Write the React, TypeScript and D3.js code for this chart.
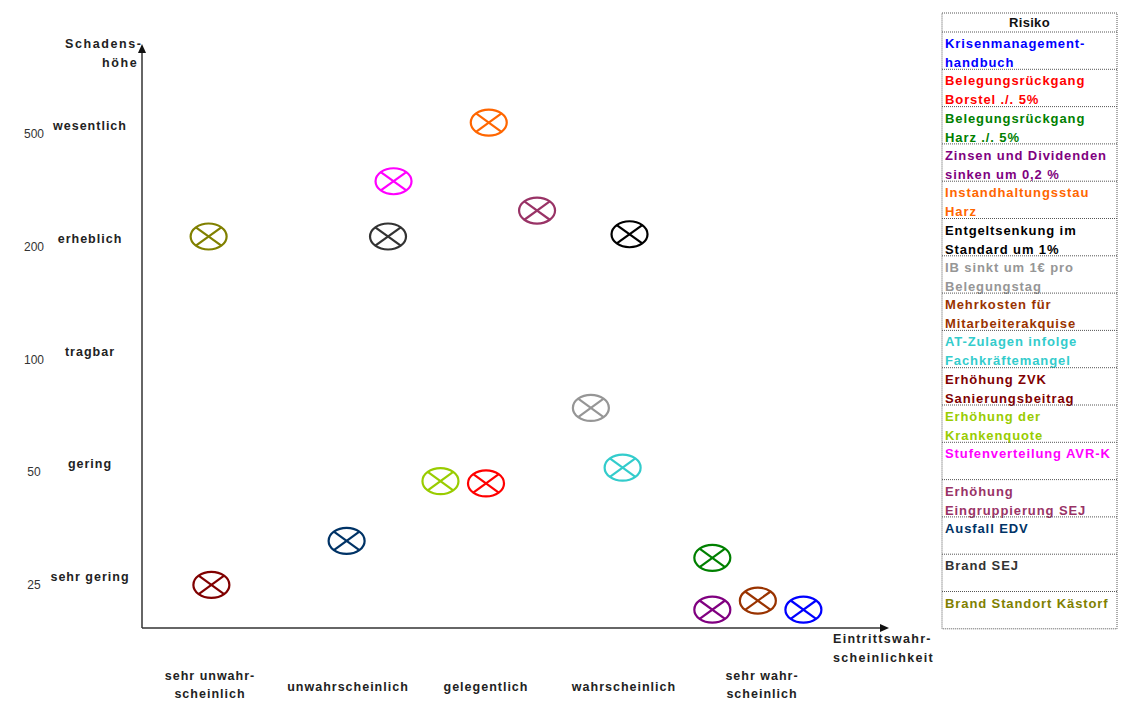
import React from 'react';
import * as d3 from 'd3';

const width = 1129;
const height = 702;

// axis categories
const damageLevels = ['sehr gering', 'gering', 'tragbar', 'erheblich', 'wesentlich'];
const damageValues = ['25', '50', '100', '200', '500'];
const probLevels = [
  ['sehr unwahr-', 'scheinlich'],
  ['unwahrscheinlich'],
  ['gelegentlich'],
  ['wahrscheinlich'],
  ['sehr wahr-', 'scheinlich'],
];

// risks (legend order)
const riskNames = [
  ['Krisenmanagement-', 'handbuch'],
  ['Belegungsrückgang', 'Borstel ./. 5%'],
  ['Belegungsrückgang', 'Harz ./. 5%'],
  ['Zinsen und Dividenden', 'sinken um 0,2 %'],
  ['Instandhaltungsstau', 'Harz'],
  ['Entgeltsenkung im', 'Standard um 1%'],
  ['IB sinkt um 1€ pro', 'Belegungstag'],
  ['Mehrkosten für', 'Mitarbeiterakquise'],
  ['AT-Zulagen infolge', 'Fachkräftemangel'],
  ['Erhöhung ZVK', 'Sanierungsbeitrag'],
  ['Erhöhung der', 'Krankenquote'],
  ['Stufenverteilung AVR-K'],
  ['Erhöhung', 'Eingruppierung SEJ'],
  ['Ausfall EDV'],
  ['Brand  SEJ'],
  ['Brand  Standort Kästorf'],
];
const riskColors = [
  '#0000FF', '#FF0000', '#008000', '#800080', '#FF6600', '#000000', '#969696', '#993300',
  '#33CCCC', '#800000', '#99CC00', '#FF00FF', '#993366', '#003366', '#333333', '#808000',
];
const riskProb = [5.3, 3.0, 4.64, 4.64, 3.02, 4.04, 3.76, 4.97, 3.99, 1.01, 2.67, 2.33, 3.37, 1.99, 2.29, 0.99];
const riskDamage = [0.71, 1.83, 1.17, 0.71, 5.03, 4.04, 2.5, 0.79, 1.97, 0.93, 1.85, 4.51, 4.25, 1.32, 4.02, 4.02];

const x = d3.scaleLinear().domain([1, 5]).range([210, 762]);
const y = d3.scaleLinear().domain([1, 5]).range([577, 126]);

const originX = 142;
const originY = 628;
const axisTop = 44;
const axisRight = 889;

const legendX = 942;
const legendW = 175;
const legendTop = 13;
const headerH = 19;
const rowH = 37.3;

const font = 'Arial, "Liberation Sans", sans-serif';
const boldText = { fontFamily: font, fontWeight: 700, fontSize: 12.5, letterSpacing: 1 };
const legendText = { fontFamily: font, fontWeight: 700, fontSize: 13, letterSpacing: 0.9 };

const Marker = ({ cx, cy, color }) => {
  const rx = 18, ry = 13;
  const dx = rx * Math.SQRT1_2, dy = ry * Math.SQRT1_2;
  return (
    <g stroke={color} strokeWidth={2.2} fill="none">
      <ellipse cx={cx} cy={cy} rx={rx} ry={ry} />
      <line x1={cx - dx} y1={cy - dy} x2={cx + dx} y2={cy + dy} />
      <line x1={cx - dx} y1={cy + dy} x2={cx + dx} y2={cy - dy} />
    </g>
  );
};

const App = () => {
  const rowY = (i) => legendTop + headerH + i * rowH;
  return (
    <svg width={width} height={height} style={{ position: 'absolute', left: 0, top: 0, background: '#fff' }}>
      {/* y axis labels */}
      {damageLevels.map((l, i) => (
        <g key={l}>
          <text x={90} y={y(i + 1) + 4} textAnchor="middle" fill="#222" style={boldText}>{l}</text>
          <text x={34} y={y(i + 1) + 12} textAnchor="middle" fill="#333"
            style={{ fontFamily: font, fontSize: 12 }}>{damageValues[i]}</text>
        </g>
      ))}
      <text x={65} y={48} fill="#222" style={{ ...boldText, letterSpacing: 1.6 }}>Schadens-</text>
      <text x={102} y={67} fill="#222" style={{ ...boldText, letterSpacing: 1.6 }}>höhe</text>

      {/* x axis labels */}
      {probLevels.map((lines, i) => (
        <text key={i} textAnchor="middle" fill="#222" style={boldText}>
          {lines.map((t, j) => (
            <tspan key={j} x={x(i + 1)} y={lines.length === 1 ? 691 : 680 + j * 18}>{t}</tspan>
          ))}
        </text>
      ))}
      <text fill="#222" style={{ ...boldText, letterSpacing: 1.3 }}>
        <tspan x={833} y={643}>Eintrittswahr-</tspan>
        <tspan x={833} y={662}>scheinlichkeit</tspan>
      </text>

      {/* axes */}
      <line x1={originX} y1={originY} x2={originX} y2={axisTop + 6} stroke="#333" strokeWidth={1.5} />
      <path d={`M${originX},${axisTop} L${originX - 4},${axisTop + 9} L${originX + 4},${axisTop + 9} Z`} fill="#111" />
      <line x1={originX} y1={originY} x2={axisRight - 6} y2={originY} stroke="#333" strokeWidth={1.5} />
      <path d={`M${axisRight},${originY} L${axisRight - 9},${originY - 4} L${axisRight - 9},${originY + 4} Z`} fill="#111" />

      {/* markers */}
      {riskNames.map((n, i) => (
        <Marker key={i} cx={x(riskProb[i])} cy={y(riskDamage[i])} color={riskColors[i]} />
      ))}

      {/* legend table */}
      <g>
        <rect x={legendX} y={legendTop} width={legendW} height={headerH + rowH * riskNames.length}
          fill="none" stroke="#555" strokeDasharray="1,1" />
        <text x={legendX + legendW / 2} y={legendTop + 14} textAnchor="middle" fill="#111"
          style={{ ...legendText, letterSpacing: 0.3 }}>Risiko</text>
        {riskNames.map((lines, i) => (
          <g key={i}>
            <line x1={legendX} x2={legendX + legendW} y1={rowY(i)} y2={rowY(i)} stroke="#555" strokeDasharray="1,1" />
            {lines.map((t, j) => (
              <text key={j} x={legendX + 3} y={rowY(i) + 16 + j * 19} fill={riskColors[i]} style={legendText}>{t}</text>
            ))}
          </g>
        ))}
      </g>
    </svg>
  );
};

export default App;
